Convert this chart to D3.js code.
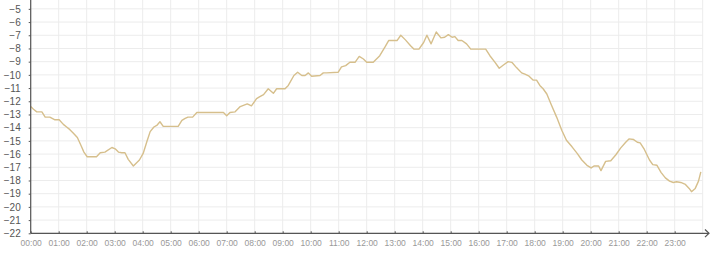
<!DOCTYPE html>
<html>
<head>
<meta charset="utf-8">
<script src="https://cdn.jsdelivr.net/npm/d3@7"></script>
<style>
  html, body { margin: 0; padding: 0; background: #fff; }
  #chart { width: 720px; height: 256px; }
  .grid line { stroke: #ececec; stroke-width: 1; }
  .axis path, .axis line { stroke: #555; }
  .y.axis text { fill: #555; font-size: 10px; font-family: "Liberation Sans", Arial, sans-serif; }
  .x.axis text { fill: #999; font-size: 8.5px; font-family: "Liberation Sans", Arial, sans-serif; }
</style>
</head>
<body>
<div id="chart"></div>
<script>
// time of reading (HH:MM) and temperature
var times = ["00:00","00:06","00:13","00:24","00:31","00:41","00:52","01:01","01:10","01:17",
  "01:24","01:31","01:40","01:49","01:54","02:01","02:21","02:29","02:39","02:54",
  "03:01","03:08","03:15","03:22","03:29","03:40","03:47","03:53","04:01","04:09",
  "04:16","04:24","04:31","04:37","04:44","05:16","05:24","05:31","05:37","05:47",
  "05:56","06:53","07:00","07:07","07:18","07:29","07:44","07:53","08:04","08:11",
  "08:19","08:29","08:40","08:47","09:05","09:12","09:24","09:32","09:41","09:48",
  "09:55","10:02","10:20","10:27","10:34","10:59","11:06","11:15","11:24","11:35",
  "11:44","11:53","12:00","12:14","12:21","12:28","12:39","12:47","13:05","13:13",
  "13:23","13:34","13:41","13:52","14:02","14:09","14:18","14:29","14:39","14:47",
  "14:55","15:03","15:09","15:16","15:24","15:34","15:43","16:15","16:24","16:35",
  "16:44","16:53","17:03","17:11","17:21","17:32","17:39","17:48","17:57","18:04",
  "18:11","18:18","18:26","18:36","18:47","18:58","19:08","19:20","19:31","19:41",
  "19:52","20:01","20:07","20:17","20:22","20:32","20:43","20:54","21:04","21:15",
  "21:22","21:32","21:40","21:46","21:55","22:06","22:13","22:22","22:31","22:40",
  "22:49","22:57","23:04","23:13","23:23","23:31","23:36","23:44","23:51","23:56"];
var temps = [-12.4,-12.6,-12.8,-12.8,-13.2,-13.2,-13.4,-13.4,-13.75,-13.95,
  -14.15,-14.4,-14.75,-15.45,-15.85,-16.2,-16.2,-15.9,-15.85,-15.5,
  -15.6,-15.85,-15.9,-15.9,-16.4,-16.9,-16.65,-16.45,-15.95,-15.05,
  -14.3,-13.95,-13.8,-13.55,-13.9,-13.9,-13.45,-13.3,-13.2,-13.2,
  -12.85,-12.85,-13.1,-12.85,-12.8,-12.4,-12.2,-12.35,-11.8,-11.65,
  -11.5,-11.05,-11.4,-11.05,-11.05,-10.8,-10.05,-9.8,-10.05,-10.05,
  -9.85,-10.1,-10.05,-9.85,-9.85,-9.8,-9.4,-9.3,-9.05,-9.05,
  -8.6,-8.8,-9.05,-9.05,-8.8,-8.55,-7.9,-7.4,-7.4,-7.0,
  -7.35,-7.8,-8.05,-8.05,-7.55,-7.0,-7.65,-6.75,-7.2,-7.15,
  -6.95,-7.15,-7.1,-7.4,-7.4,-7.65,-8.05,-8.05,-8.55,-9.05,
  -9.5,-9.25,-9.0,-9.05,-9.45,-9.85,-9.95,-10.1,-10.4,-10.4,
  -10.8,-11.05,-11.45,-12.3,-13.2,-14.2,-14.95,-15.45,-15.95,-16.45,
  -16.85,-17.05,-16.9,-16.9,-17.25,-16.55,-16.5,-16.05,-15.55,-15.1,
  -14.85,-14.9,-15.1,-15.15,-15.65,-16.45,-16.8,-16.85,-17.4,-17.8,
  -18.05,-18.15,-18.1,-18.15,-18.3,-18.6,-18.85,-18.6,-18.05,-17.35];
var hourTicks = d3.range(0, 24);
var tempTicks = d3.range(-22, -4);

var width = 720, height = 256;
var plotLeft = 30.7, plotRight = 702.7, plotTop = 0, plotBottom = 233.3;

var toHours = function(s) {
  var p = s.split(":");
  return +p[0] + p[1] / 60;
};

var data = times.map(function(t, i) {
  return { h: toHours(t), v: temps[i] };
});

var xScale = d3.scaleLinear().domain([0, 24]).range([plotLeft, plotRight]);
var yScale = d3.scaleLinear().domain([-22, -4.33]).range([plotBottom, plotTop]);

var svg = d3.select("#chart").append("svg")
  .attr("width", width)
  .attr("height", height);

/* grid */
var grid = svg.append("g").attr("class", "grid");
grid.selectAll(".hline")
  .data(tempTicks).enter()
  .append("line")
  .attr("x1", plotLeft).attr("x2", plotRight)
  .attr("y1", d => yScale(d)).attr("y2", d => yScale(d));
grid.selectAll(".vline")
  .data(hourTicks.concat([24])).enter()
  .append("line")
  .attr("x1", d => xScale(d)).attr("x2", d => xScale(d))
  .attr("y1", plotTop).attr("y2", plotBottom);

/* line */
var line = d3.line()
  .x(d => xScale(d.h))
  .y(d => yScale(d.v));

svg.append("path")
  .datum(data)
  .attr("d", line)
  .attr("fill", "none")
  .attr("stroke", "#d6bf8c")
  .attr("stroke-width", 1.4)
  .attr("stroke-linejoin", "round");

/* axes */
var xAxis = d3.axisBottom(xScale)
  .tickValues(hourTicks)
  .tickSize(-2)
  .tickPadding(7)
  .tickFormat(d => (d < 10 ? "0" : "") + d + ":00");

var yAxis = d3.axisLeft(yScale)
  .tickValues(tempTicks)
  .tickSize(2)
  .tickPadding(8)
  .tickFormat(d3.format("d"));

var gx = svg.append("g")
  .attr("class", "x axis")
  .attr("transform", `translate(0, ${plotBottom})`)
  .call(xAxis);
gx.select(".domain").remove();
gx.append("line")
  .attr("x1", plotLeft).attr("x2", 709)
  .attr("y1", 0).attr("y2", 0)
  .attr("stroke", "#555").attr("stroke-width", 1.2);
gx.append("path")
  .attr("d", "M705,-3.8L709,0L705,3.8")
  .attr("fill", "none")
  .attr("stroke", "#555").attr("stroke-width", 1.2);

var gy = svg.append("g")
  .attr("class", "y axis")
  .attr("transform", `translate(${plotLeft}, 0)`)
  .call(yAxis);
gy.select(".domain")
  .attr("d", `M0,${plotTop}V${plotBottom}`)
  .attr("stroke-width", 1.2);
</script>
</body>
</html>
